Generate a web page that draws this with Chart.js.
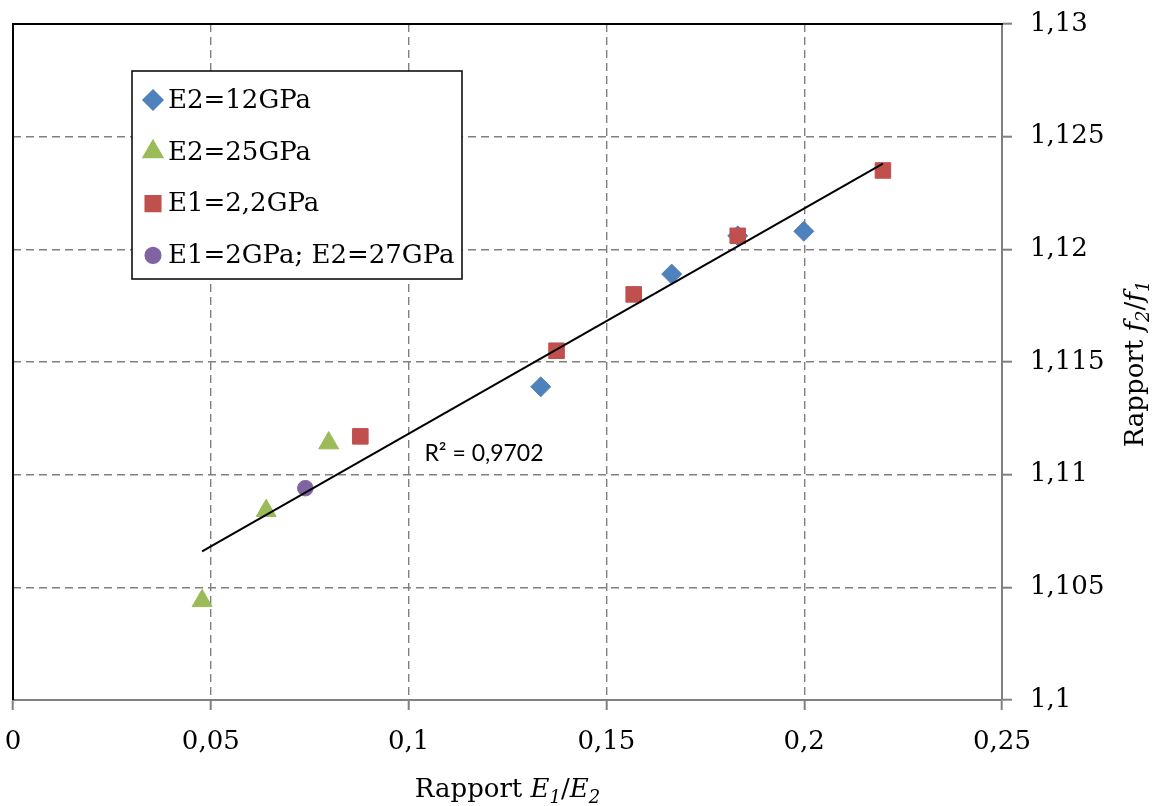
<!DOCTYPE html>
<html>
<head>
<meta charset="utf-8">
<script src="https://cdn.jsdelivr.net/npm/chart.js@4.4.1/dist/chart.umd.min.js"></script>
<style>
  body { margin: 0; background: #fff; }
</style>
</head>
<body>
<canvas id="graphe" width="1157" height="806"></canvas>
<script>
// valeurs
const xTickLabels = ['0', '0,05', '0,1', '0,15', '0,2', '0,25'];
const yTickLabels = ['1,1', '1,105', '1,11', '1,115', '1,12', '1,125', '1,13'];

const serieLabels = ['E2=12GPa', 'E2=25GPa', 'E1=2,2GPa', 'E1=2GPa; E2=27GPa'];

const e2_12_x = [0.1334, 0.1665, 0.1832, 0.1999];
const e2_12_y = [1.1139, 1.1189, 1.1206, 1.1208];

const e2_25_x = [0.0478, 0.0640, 0.0798];
const e2_25_y = [1.1044, 1.1084, 1.1114];

const e1_22_x = [0.0878, 0.1374, 0.1569, 0.1832, 0.2199];
const e1_22_y = [1.1117, 1.1155, 1.1180, 1.1206, 1.1235];

const e1_2_e2_27_x = [0.0739];
const e1_2_e2_27_y = [1.1094];

// courbe de tendance linéaire
const tendanceX = [0.0478, 0.2199];
const tendanceY = [1.1066, 1.1238];
const r2Texte = 'R² = 0,9702';

const points = (xs, ys) => xs.map((x, i) => ({ x: x, y: ys[i] }));

const couleurs = ['#4F81BD', '#9BBB59', '#C0504D', '#8064A2'];
const formes = ['rectRot', 'triangle', 'rect', 'circle'];
const rayons = [10, 11.5, 11, 7.8];

const serif = "'DejaVu Serif', serif";
const taille = 26;

function texteRiche(ctx, parts, size) {
    const police = p => (p.i ? 'italic ' : '') + Math.round(p.sub ? size * 0.68 : size) + 'px ' + serif;
    let w = 0;
    parts.forEach(p => { ctx.font = police(p); w += ctx.measureText(p.t).width; });
    let x = -w / 2;
    parts.forEach(p => {
        ctx.font = police(p);
        ctx.fillText(p.t, x, p.sub ? size * 0.24 : 0);
        x += ctx.measureText(p.t).width;
    });
}

function marqueur(ctx, i, x, y) {
    ctx.fillStyle = couleurs[i];
    ctx.strokeStyle = couleurs[i];
    if (Chart.helpers && Chart.helpers.drawPoint) {
        Chart.helpers.drawPoint(ctx, { pointStyle: formes[i], radius: rayons[i], rotation: 0, borderWidth: 1 }, x, y);
    }
}

// pas de marge automatique autour des étiquettes
function sansMarge(s) {
    s.paddingLeft = 0;
    s.paddingRight = 0;
    s.paddingTop = 0;
    s.paddingBottom = 0;
}

const habillage = {
    id: 'habillage',
    beforeDatasetsDraw(chart) {
        const { ctx, chartArea: a } = chart;
        ctx.save();
        ctx.strokeStyle = '#000';
        ctx.lineWidth = 2;
        ctx.beginPath();
        ctx.moveTo(a.left, a.bottom);
        ctx.lineTo(a.left, a.top);
        ctx.lineTo(a.right + 1, a.top);
        ctx.stroke();
        ctx.restore();
    },
    afterDraw(chart) {
        const { ctx, chartArea: a, scales } = chart;
        ctx.save();
        ctx.fillStyle = '#000';
        ctx.textBaseline = 'alphabetic';

        // titre axe X
        ctx.save();
        ctx.translate((a.left + a.right) / 2, 797);
        texteRiche(ctx, [
            { t: 'Rapport ' }, { t: 'E', i: true }, { t: '1', i: true, sub: true },
            { t: '/' }, { t: 'E', i: true }, { t: '2', i: true, sub: true }
        ], taille);
        ctx.restore();

        // titre axe Y
        ctx.save();
        ctx.translate(1143, (a.top + a.bottom) / 2 + 2);
        ctx.rotate(-Math.PI / 2);
        texteRiche(ctx, [
            { t: 'Rapport ' }, { t: 'f', i: true }, { t: '2', i: true, sub: true },
            { t: '/' }, { t: 'f', i: true }, { t: '1', i: true, sub: true }
        ], taille);
        ctx.restore();

        // R²
        ctx.font = "23px Lato, 'Open Sans', sans-serif";
        ctx.textAlign = 'left';
        ctx.fillText(r2Texte, scales.x.getPixelForValue(0.104), scales.y.getPixelForValue(1.1106));

        // légende
        const lx = a.left + 119, ly = a.top + 47;
        ctx.fillStyle = '#fff';
        ctx.fillRect(lx, ly, 330, 208);
        ctx.strokeStyle = '#000';
        ctx.lineWidth = 1.5;
        ctx.strokeRect(lx, ly, 330, 208);
        ctx.textBaseline = 'middle';
        ctx.font = taille + 'px ' + serif;
        serieLabels.forEach((lab, i) => {
            const cy = ly + 29 + i * 51.8;
            ctx.save();
            marqueur(ctx, i, lx + 21, cy);
            ctx.restore();
            ctx.fillStyle = '#000';
            ctx.fillText(lab, lx + 36, cy + 1);
        });
        ctx.restore();
    }
};

const series = [
    [e2_12_x, e2_12_y], [e2_25_x, e2_25_y], [e1_22_x, e1_22_y], [e1_2_e2_27_x, e1_2_e2_27_y]
];
const ordres = [4, 3, 2, 1];

const datasets = series.map((s, i) => ({
    label: serieLabels[i],
    data: points(s[0], s[1]),
    backgroundColor: couleurs[i],
    borderColor: couleurs[i],
    borderWidth: 1,
    pointStyle: formes[i],
    pointRadius: rayons[i],
    order: ordres[i]
}));

datasets.push({
    type: 'line',
    label: 'Tendance',
    data: points(tendanceX, tendanceY),
    borderColor: '#000',
    borderWidth: 2,
    pointRadius: 0,
    fill: false,
    order: 0
});

new Chart(document.getElementById('graphe').getContext('2d'), {
    type: 'scatter',
    data: { datasets: datasets },
    options: {
        responsive: false,
        animation: false,
        layout: { padding: { left: 13, top: 24, right: 0, bottom: 0 } },
        plugins: {
            legend: { display: false },
            tooltip: { enabled: false }
        },
        scales: {
            x: {
                type: 'linear',
                position: 'bottom',
                min: 0,
                max: 0.25,
                afterFit: s => { s.height = 106; sansMarge(s); },
                ticks: {
                    stepSize: 0.05,
                    padding: 17,
                    color: '#000',
                    font: { family: serif, size: taille },
                    maxRotation: 0,
                    callback: (v, i) => xTickLabels[i]
                },
                grid: { color: '#808080', lineWidth: 1.4, tickLength: 10, tickColor: '#808080', tickWidth: 2 },
                border: { display: true, color: '#808080', width: 2, dash: [8, 5] }
            },
            y: {
                type: 'linear',
                position: 'right',
                min: 1.1,
                max: 1.13,
                afterFit: s => { s.width = 155; sansMarge(s); },
                ticks: {
                    stepSize: 0.005,
                    padding: 18,
                    color: '#000',
                    font: { family: serif, size: taille },
                    callback: (v, i) => yTickLabels[i]
                },
                grid: { color: '#808080', lineWidth: 1.4, tickLength: 10, tickColor: '#808080', tickWidth: 2 },
                border: { display: true, color: '#808080', width: 2, dash: [8, 5] }
            }
        }
    },
    plugins: [habillage]
});
</script>
</body>
</html>
